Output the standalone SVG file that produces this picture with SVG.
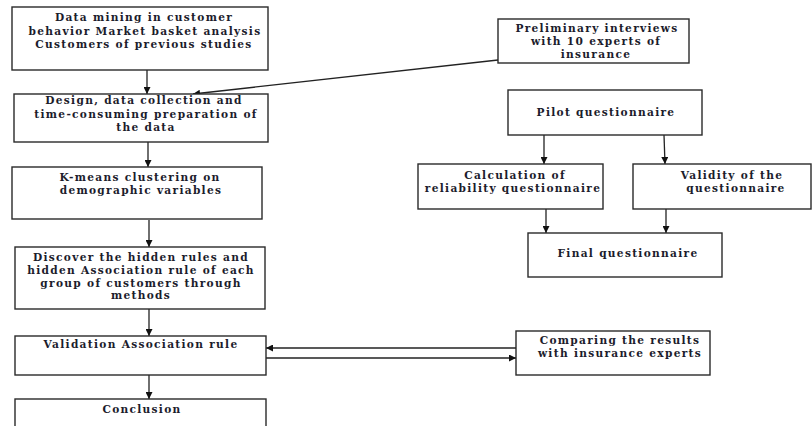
<svg xmlns="http://www.w3.org/2000/svg" width="812" height="426" viewBox="0 0 812 426">
<defs>
<marker id="ah" viewBox="0 0 10 10" refX="10" refY="5" markerWidth="8" markerHeight="7" markerUnits="userSpaceOnUse" orient="auto">
<path d="M0,0 L10,5 L0,10 z" fill="#111"/>
</marker>
<style>
.box{fill:#fff;stroke:#2a2a2a;stroke-width:1.4}
.t{font-family:"DejaVu Serif","Liberation Serif",serif;font-weight:bold;font-size:10.6px;letter-spacing:1.3px;fill:#1c1c2c;text-anchor:middle}
.c{stroke:#222;stroke-width:1.3;fill:none;marker-end:url(#ah)}
</style>
</defs>
<rect width="812" height="426" fill="#fff"/>
<g id="connectors">
<line class="c" x1="147" y1="70" x2="147" y2="94"/>
<line class="c" x1="498" y1="60" x2="193" y2="94"/>
<line class="c" x1="148" y1="142" x2="148" y2="167"/>
<line class="c" x1="149" y1="220" x2="149" y2="247"/>
<line class="c" x1="149" y1="309" x2="149" y2="336"/>
<line class="c" x1="149" y1="375" x2="149" y2="399"/>
<line class="c" x1="516" y1="348" x2="266" y2="348"/>
<line class="c" x1="266" y1="358" x2="516" y2="358"/>
<line class="c" x1="544" y1="135" x2="544" y2="164"/>
<line class="c" x1="664" y1="135" x2="665" y2="164"/>
<line class="c" x1="546" y1="209" x2="546" y2="233"/>
<line class="c" x1="666" y1="209" x2="666" y2="233"/>
</g>
<g id="n1">
<rect class="box" x="12" y="7" width="256" height="63"/>
<text class="t" x="144" y="21">Data mining in customer</text>
<text class="t" x="145" y="35">behavior Market basket analysis</text>
<text class="t" x="144" y="48">Customers of previous studies</text>
</g>
<g id="n2">
<rect class="box" x="14" y="94" width="254" height="48"/>
<text class="t" x="144" y="104">Design, data collection and</text>
<text class="t" x="146" y="118">time-consuming preparation of</text>
<text class="t" x="146" y="131">the data</text>
</g>
<g id="n3">
<rect class="box" x="12" y="167" width="250" height="52"/>
<text class="t" x="140" y="181">K-means clustering on</text>
<text class="t" x="141" y="194">demographic variables</text>
</g>
<g id="n4">
<rect class="box" x="15" y="247" width="250" height="62"/>
<text class="t" x="141" y="261">Discover the hidden rules and</text>
<text class="t" x="141" y="274">hidden Association rule of each</text>
<text class="t" x="141" y="287">group of customers through</text>
<text class="t" x="141" y="299">methods</text>
</g>
<g id="n5">
<rect class="box" x="15" y="336" width="251" height="39"/>
<text class="t" x="141" y="348">Validation Association rule</text>
</g>
<g id="n6">
<rect class="box" x="15" y="399" width="251" height="40"/>
<text class="t" x="142" y="413">Conclusion</text>
</g>
<g id="n7">
<rect class="box" x="498" y="19" width="191" height="44"/>
<text class="t" x="597" y="32">Preliminary interviews</text>
<text class="t" x="596" y="45">with 10 experts of</text>
<text class="t" x="596" y="58">insurance</text>
</g>
<g id="n8">
<rect class="box" x="508" y="90" width="194" height="45"/>
<text class="t" x="606" y="116">Pilot questionnaire</text>
</g>
<g id="n9">
<rect class="box" x="418" y="164" width="185" height="45"/>
<text class="t" x="515" y="179">Calculation of</text>
<text class="t" x="513" y="192">reliability questionnaire</text>
</g>
<g id="n10">
<rect class="box" x="633" y="164" width="178" height="45"/>
<text class="t" x="732" y="179">Validity of the</text>
<text class="t" x="736" y="192">questionnaire</text>
</g>
<g id="n11">
<rect class="box" x="528" y="233" width="194" height="44"/>
<text class="t" x="628" y="257">Final questionnaire</text>
</g>
<g id="n12">
<rect class="box" x="516" y="331" width="194" height="44"/>
<text class="t" x="620" y="344">Comparing the results</text>
<text class="t" x="620" y="357">with insurance experts</text>
</g>
</svg>
